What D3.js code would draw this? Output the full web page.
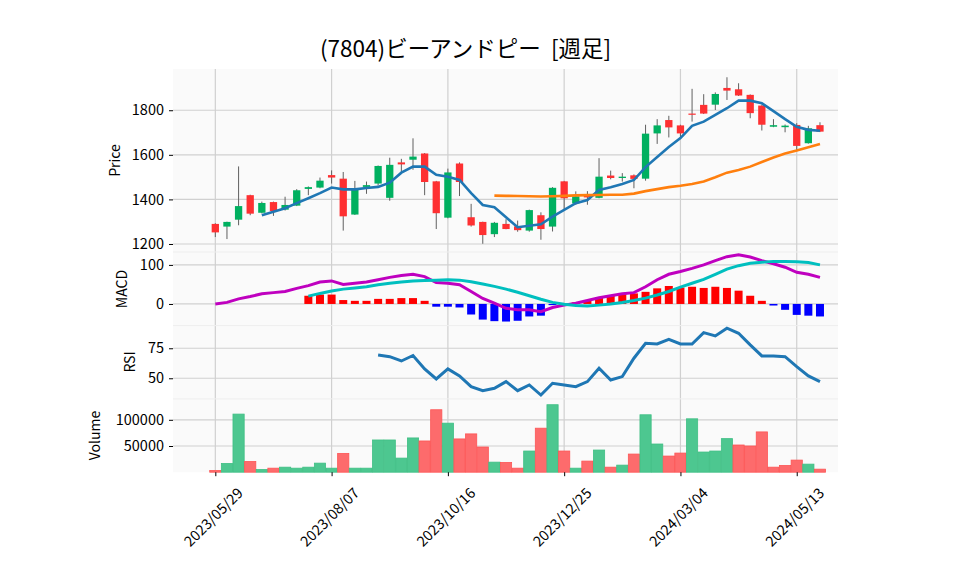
<!DOCTYPE html>
<html><head><meta charset="utf-8">
<script src="https://cdn.jsdelivr.net/npm/d3@7"></script>
<style>
html,body{margin:0;padding:0;background:#fff;}
text{font-family:"Noto Sans CJK JP","Noto Sans",sans-serif;}
</style></head>
<body><svg id="c" width="958" height="575"></svg>
<script>
const dates = ["2023/05/29","2023/06/05","2023/06/12","2023/06/19","2023/06/26","2023/07/03","2023/07/10","2023/07/17","2023/07/24","2023/07/31",
"2023/08/07","2023/08/14","2023/08/21","2023/08/28","2023/09/04","2023/09/11","2023/09/18","2023/09/25","2023/10/02","2023/10/09",
"2023/10/16","2023/10/23","2023/10/30","2023/11/06","2023/11/13","2023/11/20","2023/11/27","2023/12/04","2023/12/11","2023/12/18",
"2023/12/25","2024/01/01","2024/01/08","2024/01/15","2024/01/22","2024/01/29","2024/02/05","2024/02/12","2024/02/19","2024/02/26",
"2024/03/04","2024/03/11","2024/03/18","2024/03/25","2024/04/01","2024/04/08","2024/04/15","2024/04/22","2024/04/29","2024/05/06",
"2024/05/13","2024/05/20","2024/05/27"];
const opens  = [1290,1278,1309,1419,1340,1388,1354,1372,1447,1453,1509,1493,1332,1456,1471,1407,1566,1578,1606,1481,1318,1561,1320,1299,1244,1290,1279,1260,1329,1278,1481,1382,1419,1407,1507,1496,1508,1493,1696,1756,1732,1785,1824,1825,1900,1894,1869,1821,1726,1724,1734,1652,1733];
const highs  = [1293,1300,1548,1421,1390,1390,1412,1446,1458,1498,1530,1523,1483,1480,1552,1587,1582,1674,1608,1483,1538,1566,1380,1300,1299,1311,1305,1354,1342,1455,1483,1436,1437,1585,1529,1518,1512,1735,1760,1775,1735,1896,1872,1880,1948,1921,1871,1823,1760,1736,1742,1730,1746];
const lows   = [1231,1222,1284,1329,1337,1326,1350,1370,1419,1450,1471,1260,1330,1425,1462,1394,1516,1533,1419,1267,1315,1415,1278,1201,1231,1266,1255,1255,1219,1256,1355,1376,1376,1405,1490,1480,1450,1484,1649,1678,1676,1749,1783,1801,1846,1864,1764,1709,1724,1701,1620,1650,1702];
const closes = [1252,1299,1370,1336,1384,1348,1375,1441,1455,1484,1498,1324,1447,1464,1550,1555,1557,1592,1478,1338,1521,1478,1283,1240,1295,1267,1262,1352,1267,1452,1405,1414,1409,1502,1496,1502,1492,1695,1732,1723,1696,1781,1785,1873,1888,1866,1787,1735,1733,1731,1640,1719,1704];
const volumes = [3200,16700,110900,20500,5100,7700,9600,7700,9600,17300,7700,35900,7700,7700,61500,61500,26900,65400,59600,119200,93600,63500,73100,48100,19200,18600,7700,40400,84000,128800,40400,7700,21200,42300,9600,13500,34600,109600,53800,30800,36500,101900,38500,40400,64100,51900,50000,76900,9600,12800,23100,15400,5800];
const ma5 = [null,null,null,null,1329,1345,1360,1383,1405,1428,1453,1445,1445,1451,1456,1475,1520,1547,1547,1510,1502,1487,1428,1375,1365,1320,1275,1282,1288,1323,1353,1383,1397,1442,1454,1469,1487,1545,1590,1635,1675,1730,1749,1779,1809,1843,1843,1831,1796,1760,1726,1712,1708];
const ma25 = [null,null,null,null,null,null,null,null,null,null,null,null,null,null,null,null,null,null,null,null,null,null,null,null,1417,1416,1415,1414,1413,1414,1416,1418,1419,1420,1421,1421,1426,1437,1446,1455,1461,1469,1480,1499,1520,1532,1547,1568,1588,1606,1619,1634,1649];
const macd = [0,4,13,19,26,29,32,40,47,56,59,50,53,56,62,68,73,76,70,55,53,49,32,14,2,-11,-15,-15,-20,-9,-3,2,9,16,21,26,29,44,62,76,83,91,100,111,121,126,120,111,103,94,81,76,68];
const signal = [null,null,null,null,null,null,null,null,20,27,33,38,41,44,49,53,56,59,60,61,62,61,57,51,45,38,30,21,12,4,-1,-4,-5,-3,0,4,9,15,23,32,43,53,63,76,89,98,104,107,109,109,108,106,100];
const hist = [null,null,null,null,null,null,null,null,21,24,24,10,8,8,13,13,15,15,8,-7,-7,-9,-27,-40,-44,-45,-43,-32,-30,-3,1,4,10,17,22,25,27,31,40,46,42,44,41,44,41,34,21,8,-4,-15,-28,-30,-32];
const rsi = [null,null,null,null,null,null,null,null,null,null,null,null,null,null,69.4,68,64.4,69,57.8,49.4,57.8,52,43,39.7,41.7,47.2,39.7,44.4,36,45.8,44.4,43,47.2,58.3,48.6,51.4,66.7,79.2,78.6,82.5,78.6,78.6,88,85.3,91.7,87.5,77.8,68.6,68.6,68,59.7,52,47.2];
const xTickIdx = [0,10,20,30,40,50];
const priceTicks = [1200,1400,1600,1800];
const macdTicks = [0,100];
const rsiTicks = [50,75];
const volTicks = [50000,100000];
const title = "(7804)ビーアンドピー  [週足]";

const svg = d3.select("#c");
const L = 173, R = 838;
const P = {price:[69,252], macd:[252,325.6], rsi:[325.6,398.9], vol:[398.9,472.2]};
const x = d3.scaleLinear().domain([-3.64,53.55]).range([L,R]);
const yP = d3.scaleLinear().domain([1164,1985]).range([P.price[1],P.price[0]]);
const yM = d3.scaleLinear().domain([-55.4,133]).range([P.macd[1],P.macd[0]]);
const yR = d3.scaleLinear().domain([32.8,93.9]).range([P.rsi[1],P.rsi[0]]);
const yV = d3.scaleLinear().domain([0,139900]).range([P.vol[1],P.vol[0]]);

const UP="#00b060", DN="#fe3032", VUP="#4dc790", VDN="#fd6b6c", GRID="#d0d0d0";
const FS = 14.5;

svg.append("rect").attr("width",958).attr("height",575).attr("fill","#fff");
const panels = [[P.price,yP,priceTicks],[P.macd,yM,macdTicks],[P.rsi,yR,rsiTicks],[P.vol,yV,volTicks]];
panels.forEach(([b,y,t])=>{
  svg.append("rect").attr("x",L).attr("y",b[0]).attr("width",R-L).attr("height",b[1]-b[0]).attr("fill","#fafafa");
  const g = svg.append("g");
  g.selectAll("line.h").data(t).join("line").attr("x1",L).attr("x2",R).attr("y1",d=>y(d)).attr("y2",d=>y(d)).attr("stroke",GRID).attr("stroke-width",1.2);
  g.selectAll("line.v").data(xTickIdx).join("line").attr("x1",d=>x(d)).attr("x2",d=>x(d)).attr("y1",b[0]).attr("y2",b[1]).attr("stroke",GRID).attr("stroke-width",1.2);
  const ax = svg.append("g").attr("transform",`translate(${L},0)`).call(d3.axisLeft(y).tickValues(t).tickSize(4).tickPadding(5).tickFormat(d3.format("d")));
  ax.select(".domain").remove();
  ax.selectAll("text").attr("font-size",FS).attr("fill","#000").style("font-family",'"Noto Sans CJK JP",sans-serif');
  ax.selectAll("line").attr("stroke","#000");
});
[P.price[1],P.macd[1],P.rsi[1]].forEach(yy=>{
  svg.append("line").attr("x1",L).attr("x2",R).attr("y1",yy).attr("y2",yy).attr("stroke","#eeeeee").attr("stroke-width",1);
});

// candles
const idx = d3.range(closes.length);
const bw = 7.3;
const cg = svg.append("g");
cg.selectAll("line").data(idx).join("line")
  .attr("x1",i=>x(i)).attr("x2",i=>x(i)).attr("y1",i=>yP(highs[i])).attr("y2",i=>yP(lows[i]))
  .attr("stroke","#606060").attr("stroke-width",1);
cg.selectAll("rect").data(idx).join("rect")
  .attr("x",i=>x(i)-bw/2).attr("width",bw)
  .attr("y",i=>yP(Math.max(opens[i],closes[i])))
  .attr("height",i=>Math.max(1.2,Math.abs(yP(opens[i])-yP(closes[i]))))
  .attr("fill",i=>closes[i]>=opens[i]?UP:DN);

const lineGen = (y,arr)=>d3.line().defined(i=>arr[i]!=null).x(i=>x(i)).y(i=>y(arr[i]))(idx);
svg.append("path").attr("d",lineGen(yP,ma5)).attr("fill","none").attr("stroke","#1f77b4").attr("stroke-width",2.6);
svg.append("path").attr("d",lineGen(yP,ma25)).attr("fill","none").attr("stroke","#ff7f0e").attr("stroke-width",2.6);

// MACD
const hw = 8;
svg.append("g").selectAll("rect").data(idx.filter(i=>hist[i]!=null)).join("rect")
  .attr("x",i=>x(i)-hw/2).attr("width",hw)
  .attr("y",i=>Math.min(yM(0),yM(hist[i]))).attr("height",i=>Math.abs(yM(hist[i])-yM(0)))
  .attr("fill",i=>hist[i]>=0?"#ff0000":"#0000ff");
svg.append("path").attr("d",lineGen(yM,macd)).attr("fill","none").attr("stroke","#bf00bf").attr("stroke-width",3);
svg.append("path").attr("d",lineGen(yM,signal)).attr("fill","none").attr("stroke","#00bfbf").attr("stroke-width",3);

// RSI
svg.append("path").attr("d",lineGen(yR,rsi)).attr("fill","none").attr("stroke","#1f77b4").attr("stroke-width",3);

// Volume
const vw = 11.2;
const volUp = i => i===0 ? closes[i]>=opens[i] : closes[i]>=closes[i-1];
svg.append("g").selectAll("rect").data(idx).join("rect")
  .attr("x",i=>x(i)-vw/2).attr("width",vw)
  .attr("y",i=>yV(volumes[i])).attr("height",i=>yV(0)-yV(volumes[i]))
  .attr("fill",i=>volUp(i)?VUP:VDN)
  .attr("stroke",i=>volUp(i)?"#3fbf84":"#fd5555")
  .attr("stroke-width",0.8);

// x axis
const xa = svg.append("g").attr("transform",`translate(0,${P.vol[1]})`).call(d3.axisBottom(x).tickValues(xTickIdx).tickSize(4).tickFormat(""));
xa.select(".domain").remove();
xa.selectAll("line").attr("stroke","#000");
svg.append("g").selectAll("text").data(xTickIdx).join("text")
  .attr("transform",i=>`translate(${x(i)-1},518) rotate(-45)`)
  .attr("text-anchor","middle").attr("dominant-baseline","middle")
  .attr("font-size",FS).text(i=>dates[i]);

// axis titles
const yl = [["Price",116,160.5],["MACD",123,289],["RSI",131,362],["Volume",96,435.5]];
yl.forEach(([t,xx,yy])=>{
  svg.append("text").attr("transform",`translate(${xx},${yy}) rotate(-90)`).attr("text-anchor","middle")
    .attr("dominant-baseline","middle").attr("font-size",14).text(t);
});
svg.append("text").attr("x",320).attr("y",56.5).attr("font-size",22.5).attr("xml:space","preserve").style("white-space","pre").text(title);
</script></body></html>
